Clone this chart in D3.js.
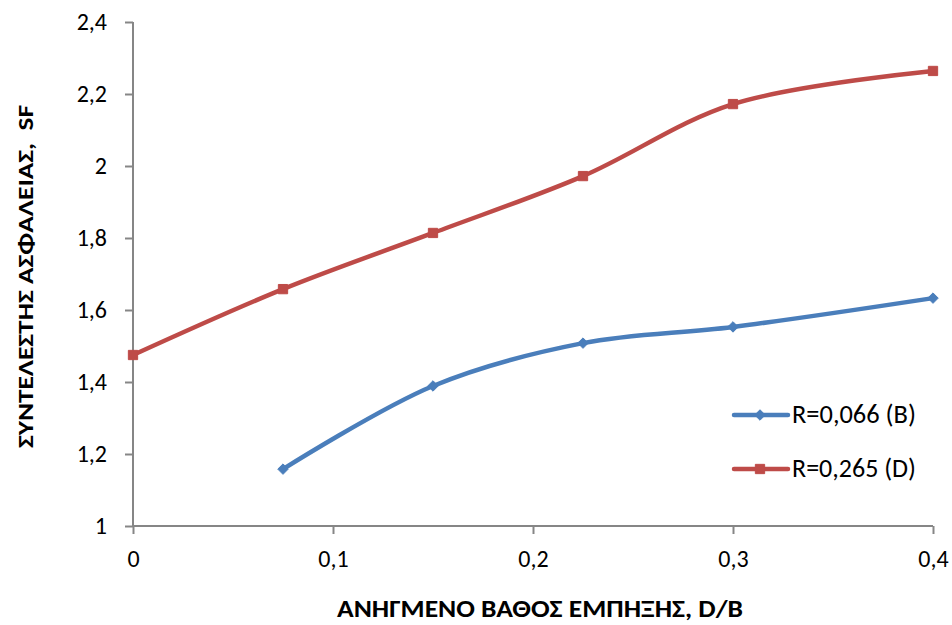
<!DOCTYPE html>
<html><head><meta charset="utf-8">
<script src="https://cdn.jsdelivr.net/npm/d3@7"></script>
<style>body{margin:0;background:#fff}</style>
</head><body><svg id="c" width="952" height="625"></svg>
<script>
const xValues = [0, 0.075, 0.15, 0.225, 0.3, 0.4];
const seriesB = [null, 1.158, 1.389, 1.508, 1.553, 1.633];
const seriesD = [1.475, 1.658, 1.814, 1.972, 2.172, 2.264];
const seriesNames = ["R=0,066 (B)", "R=0,265 (D)"];
const xTicks = [0, 0.1, 0.2, 0.3, 0.4];
const yTicks = [1, 1.2, 1.4, 1.6, 1.8, 2, 2.2, 2.4];
const xTitle = "ΑΝΗΓΜΕΝΟ ΒΑΘΟΣ ΕΜΠΗΞΗΣ, D/B";
const yTitle = "ΣΥΝΤΕΛΕΣΤΗΣ ΑΣΦΑΛΕΙΑΣ,  SF";

const svg = d3.select("#c");
const font = "Carlito, Calibri, 'Open Sans', 'Noto Sans', sans-serif";
const x = d3.scaleLinear().domain([0, 0.4]).range([133, 933]);
const y = d3.scaleLinear().domain([1, 2.4]).range([526, 22]);
const fmt = d => String(+d.toFixed(2)).replace(".", ",");
const axisCol = "#868686";

const xa = svg.append("g").attr("transform", "translate(0,526)")
  .call(d3.axisBottom(x).tickValues(xTicks).tickFormat(fmt).tickSize(8).tickPadding(16));
const ya = svg.append("g").attr("transform", "translate(133,0)")
  .call(d3.axisLeft(y).tickValues(yTicks).tickFormat(fmt).tickSize(8).tickPadding(18));
[xa, ya].forEach(a => {
  a.selectAll("path,line").attr("stroke", axisCol).attr("stroke-width", 2);
  a.select(".domain").attr("d", a === xa ? "M133,0H933" : "M0,22V526");
  a.selectAll("text").attr("font-family", font).attr("font-size", 24).attr("fill", "#000");
});

const colors = ["#4A7EBB", "#BE4B48"];
const series = [seriesB, seriesD];
const line = d3.line().defined(d => d[1] != null).x(d => x(d[0])).y(d => y(d[1]))
  .curve(d3.curveCatmullRom.alpha(0.5));
series.forEach((s, i) => {
  const pts = xValues.map((v, j) => [v, s[j]]).filter(d => d[1] != null);
  svg.append("path").attr("d", line(pts)).attr("fill", "none")
    .attr("stroke", colors[i]).attr("stroke-width", 4.5).attr("stroke-linejoin", "round").attr("stroke-linecap", "round");
  const sym = d3.symbol().type(i === 0 ? d3.symbolDiamond2 : d3.symbolSquare2).size(i === 0 ? 70 : 110);
  svg.selectAll(null).data(pts).enter().append("path")
    .attr("d", sym).attr("transform", d => `translate(${x(d[0])},${y(d[1])})`)
    .attr("fill", colors[i]).attr("stroke", colors[i]).attr("stroke-width", 1);
});

// legend
const legY = [415, 469];
seriesNames.forEach((n, i) => {
  const g = svg.append("g");
  g.append("line").attr("x1", 734).attr("x2", 788).attr("y1", legY[i]).attr("y2", legY[i])
    .attr("stroke", colors[i]).attr("stroke-width", 4.5).attr("stroke-linecap", "round");
  const sym = d3.symbol().type(i === 0 ? d3.symbolDiamond2 : d3.symbolSquare2).size(i === 0 ? 70 : 110);
  g.append("path").attr("d", sym).attr("transform", `translate(760,${legY[i]})`).attr("fill", colors[i]).attr("stroke", colors[i]);
  g.append("text").attr("x", 792).attr("y", legY[i] + 8).attr("font-family", font).attr("font-size", 26)
    .attr("textLength", 124).attr("lengthAdjust", "spacingAndGlyphs").text(n);
});

svg.append("text").attr("x", 337).attr("y", 617)
  .attr("font-family", font).attr("font-size", 24).attr("font-weight", "bold")
  .attr("textLength", 406).attr("lengthAdjust", "spacingAndGlyphs").text(xTitle);
svg.append("text").attr("transform", "translate(33,448) rotate(-90)")
  .attr("font-family", font).attr("font-size", 22).attr("font-weight", "bold")
  .style("white-space", "pre")
  .attr("textLength", 343).attr("lengthAdjust", "spacingAndGlyphs").text(yTitle);
</script></body></html>
